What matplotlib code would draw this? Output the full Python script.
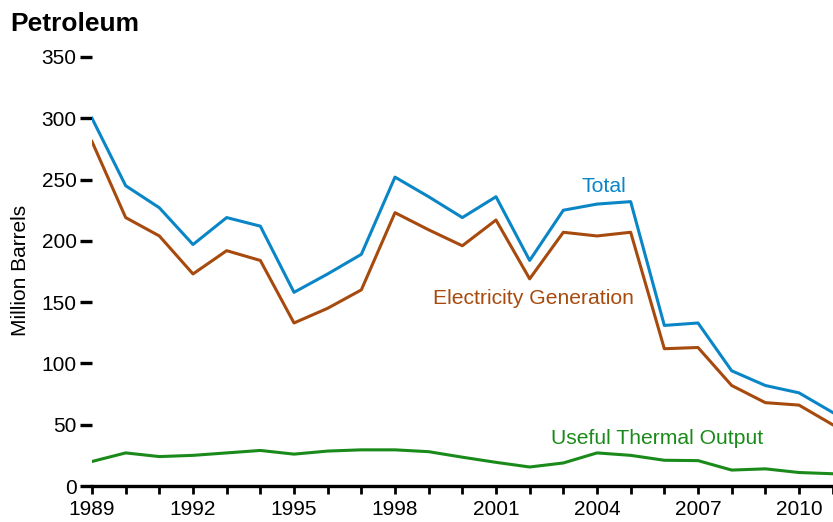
import matplotlib
import matplotlib.pyplot as plt
from matplotlib.ticker import MultipleLocator

matplotlib.use('Agg')

plt.rcParams['font.family'] = ['Liberation Sans', 'DejaVu Sans']

# petroleum consumption, million barrels
years = list(range(1989, 2012))
total = [300, 245, 227, 197, 219, 212, 158, 173, 189, 252, 236, 219, 236, 184,
         225, 230, 232, 131, 133, 94, 82, 76, 60]
electricity = [281, 219, 204, 173, 192, 184, 133, 145, 160, 223, 209, 196, 217, 169,
               207, 204, 207, 112, 113, 82, 68, 66, 50]
thermal = [20, 27, 24, 25, 27, 29, 26, 28.5, 29.5, 29.5, 28, 23.5, 19.3, 15.5,
           18.8, 27, 25, 21, 20.7, 13, 14, 11, 10]

c_total = "#0a86c6"
c_elec = "#a64a0e"
c_therm = "#1a8a1a"

fig = plt.figure(figsize=(8.33, 5.22), dpi=100)
ax = fig.add_axes([92 / 833, 1 - 486 / 522, 1 - 92 / 833, (486 - 57) / 522])

ax.plot(years, total, color=c_total, lw=2.2)
ax.plot(years, electricity, color=c_elec, lw=2.2)
ax.plot(years, thermal, color=c_therm, lw=2.2)

# direct labels instead of a legend
ax.text(2004.2, 244, "Total", color=c_total, fontsize=15.2, ha="center", va="center")
ax.text(2002.1, 153, "Electricity Generation", color=c_elec, fontsize=15.2, ha="center", va="center")
ax.text(2005.8, 39, "Useful Thermal Output", color=c_therm, fontsize=15.2, ha="center", va="center")

ax.set_xlim(1989, 2011.01)
ax.set_ylim(0, 350)
ax.set_yticks(range(0, 351, 50))
ax.xaxis.set_major_locator(MultipleLocator(3))
ax.xaxis.set_minor_locator(MultipleLocator(1))

for side in ["left", "right", "top"]:
    ax.spines[side].set_visible(False)
ax.spines["bottom"].set_linewidth(2.4)
ax.spines["bottom"].set_clip_on(False)

ax.tick_params(axis="y", direction="out", length=9, width=2.4, labelsize=15, pad=2)
ax.tick_params(axis="x", which="both", direction="out", length=6, width=2.0, labelsize=15, pad=4)
ax.patch.set_visible(False)

fig.text(10 / 833, 1 - 31 / 522, "Petroleum", fontsize=19, fontweight="bold", va="baseline", ha="left")
fig.text(21 / 833, 1 - 270 / 522, "Million Barrels", fontsize=15, rotation=90, ha="center", va="center")

fig.savefig("out.png", dpi=100)
plt.close(fig)
